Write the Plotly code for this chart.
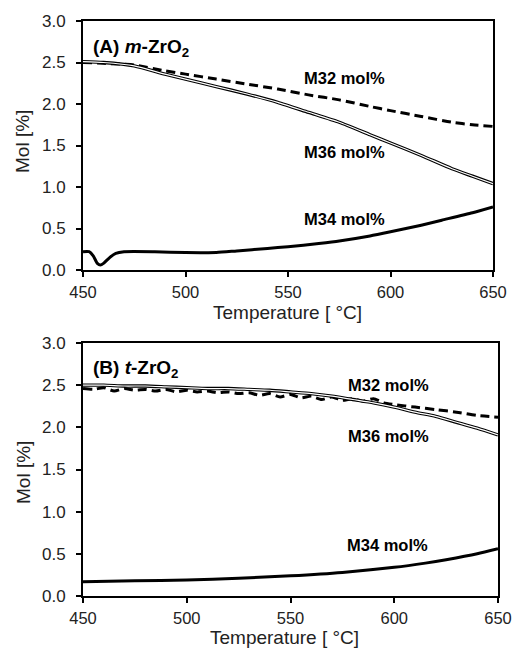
import plotly.graph_objects as go

# ---- data: panel A, m-ZrO2 ----
tA_32 = [450, 460, 475, 490, 500, 515, 530, 545, 560, 575, 590, 600, 615, 630, 640, 650]
mA_32 = [2.50, 2.49, 2.47, 2.40, 2.36, 2.30, 2.24, 2.18, 2.11, 2.05, 1.97, 1.92, 1.85, 1.78, 1.75, 1.73]

tA_36 = [450, 460, 475, 490, 500, 515, 530, 545, 560, 575, 590, 600, 615, 630, 640, 650]
mA_36 = [2.51, 2.50, 2.46, 2.36, 2.30, 2.21, 2.12, 2.02, 1.90, 1.78, 1.63, 1.53, 1.38, 1.22, 1.13, 1.04]

tA_34 = [450, 453, 455, 457, 458.5, 460, 463, 466, 470, 485, 500, 515, 525, 540, 550, 565, 575, 590, 600, 615, 625, 640, 650]
mA_34 = [0.22, 0.22, 0.17, 0.08, 0.06, 0.08, 0.15, 0.20, 0.22, 0.22, 0.21, 0.21, 0.23, 0.26, 0.28, 0.32, 0.35, 0.41, 0.46, 0.54, 0.60, 0.69, 0.76]

# ---- data: panel B, t-ZrO2 ----
tB_32 = [450, 455, 460, 465, 470, 475, 480, 485, 490, 495, 500, 505, 510, 515, 520, 525, 530, 535, 540,
         545, 550, 555, 560, 565, 570, 575, 580, 585, 590, 595, 600, 610, 620, 630, 640, 650]
mB_32 = [2.46, 2.45, 2.47, 2.43, 2.46, 2.44, 2.45, 2.43, 2.45, 2.42, 2.44, 2.42, 2.43, 2.41, 2.42, 2.40, 2.41, 2.38, 2.40,
         2.36, 2.39, 2.35, 2.37, 2.33, 2.36, 2.32, 2.34, 2.31, 2.34, 2.29, 2.27, 2.24, 2.21, 2.18, 2.14, 2.12]

tB_36 = [450, 460, 470, 480, 490, 500, 510, 520, 530, 540, 550, 560, 570, 580, 590, 600, 610, 620, 630, 640, 650]
mB_36 = [2.50, 2.50, 2.49, 2.49, 2.48, 2.47, 2.46, 2.46, 2.45, 2.44, 2.42, 2.40, 2.37, 2.33, 2.29, 2.24, 2.18, 2.13, 2.06, 1.99, 1.91]

tB_34 = [450, 475, 500, 525, 550, 575, 600, 615, 625, 640, 650]
mB_34 = [0.17, 0.18, 0.19, 0.21, 0.24, 0.28, 0.34, 0.39, 0.43, 0.50, 0.56]

x_ticks = [450, 500, 550, 600, 650]
y_ticks = [0.0, 0.5, 1.0, 1.5, 2.0, 2.5, 3.0]

FONT = "Arial, 'Liberation Sans', sans-serif"
W, H = 513, 648


def px(x):
    return x / W


def py(y):
    return 1 - y / H


fig = go.Figure()


def add_panel(xa, ya, t32, m32, t36, m36, t34, m34):
    xref = "x" if xa == 1 else f"x{xa}"
    yref = "y" if ya == 1 else f"y{ya}"
    # M32: thick dashed
    fig.add_trace(go.Scatter(x=t32, y=m32, mode="lines", xaxis=xref, yaxis=yref,
                             line=dict(color="black", width=3, dash="9px,5px", shape="spline", smoothing=0.6),
                             showlegend=False))
    # M36: double line (black outline with white core)
    fig.add_trace(go.Scatter(x=t36, y=m36, mode="lines", xaxis=xref, yaxis=yref,
                             line=dict(color="black", width=3.4, shape="spline", smoothing=0.6),
                             showlegend=False))
    fig.add_trace(go.Scatter(x=t36, y=m36, mode="lines", xaxis=xref, yaxis=yref,
                             line=dict(color="white", width=1.2, shape="spline", smoothing=0.6),
                             showlegend=False))
    # M34: thick solid
    fig.add_trace(go.Scatter(x=t34, y=m34, mode="lines", xaxis=xref, yaxis=yref,
                             line=dict(color="black", width=3, shape="spline", smoothing=0.6),
                             showlegend=False))


add_panel(1, 1, tA_32, mA_32, tA_36, mA_36, tA_34, mA_34)
add_panel(2, 2, tB_32, mB_32, tB_36, mB_36, tB_34, mB_34)

axis_common = dict(showgrid=False, zeroline=False, showline=True, linecolor="black", linewidth=2,
                   mirror=True, ticks="outside", ticklen=5, tickwidth=2, tickcolor="black",
                   automargin=False)
x_common = dict(range=[450, 650], tickvals=x_ticks, ticklabelstandoff=1,
                tickfont=dict(family=FONT, size=16.5, color="#222"), **axis_common)
y_common = dict(range=[0, 3], tickvals=y_ticks, tickformat=".1f", ticklabelstandoff=7,
                tickfont=dict(family=FONT, size=17, color="#222"), **axis_common)

fig.update_layout(
    width=W, height=H, margin=dict(l=0, r=0, t=0, b=0, autoexpand=False),
    paper_bgcolor="white", plot_bgcolor="white",
    xaxis=dict(domain=[px(83), px(493)], anchor="y", **x_common),
    yaxis=dict(domain=[py(270), py(21)], anchor="x", **y_common),
    xaxis2=dict(domain=[px(83), px(498)], anchor="y2", **x_common),
    yaxis2=dict(domain=[py(596), py(343)], anchor="x2", **y_common),
)

lab = dict(family=FONT, size=16.5, color="black")
ttl = dict(family=FONT, size=19, color="#222")
annotations = [
    # panel titles
    dict(x=px(92), y=py(48), text="<b>(A) <i>m</i>-ZrO<sub>2</sub></b>", xanchor="left", yanchor="middle",
         font=dict(family=FONT, size=19, color="black")),
    dict(x=px(92), y=py(369), text="<b>(B) <i>t</i>-ZrO<sub>2</sub></b>", xanchor="left", yanchor="middle",
         font=dict(family=FONT, size=19, color="black")),
    # series labels, panel A
    dict(x=px(303), y=py(78), text="<b>M32 mol%</b>", xanchor="left", yanchor="middle", font=lab),
    dict(x=px(303), y=py(152), text="<b>M36 mol%</b>", xanchor="left", yanchor="middle", font=lab),
    dict(x=px(303), y=py(219), text="<b>M34 mol%</b>", xanchor="left", yanchor="middle", font=lab),
    # series labels, panel B
    dict(x=px(347), y=py(385), text="<b>M32 mol%</b>", xanchor="left", yanchor="middle", font=lab),
    dict(x=px(347), y=py(436), text="<b>M36 mol%</b>", xanchor="left", yanchor="middle", font=lab),
    dict(x=px(346), y=py(545), text="<b>M34 mol%</b>", xanchor="left", yanchor="middle", font=lab),
    # axis titles
    dict(x=px(287), y=py(312.5), text="Temperature [ °C]", xanchor="center", yanchor="middle", font=ttl),
    dict(x=px(284), y=py(637), text="Temperature [ °C]", xanchor="center", yanchor="middle", font=ttl),
    dict(x=px(23), y=py(142), text="Mol [%]", textangle=-90, xanchor="center", yanchor="middle", font=ttl),
    dict(x=px(23), y=py(473), text="Mol [%]", textangle=-90, xanchor="center", yanchor="middle", font=ttl),
]
for a in annotations:
    a.update(xref="paper", yref="paper", showarrow=False, borderpad=0)
fig.update_layout(annotations=annotations)

fig.write_html("out.html")
